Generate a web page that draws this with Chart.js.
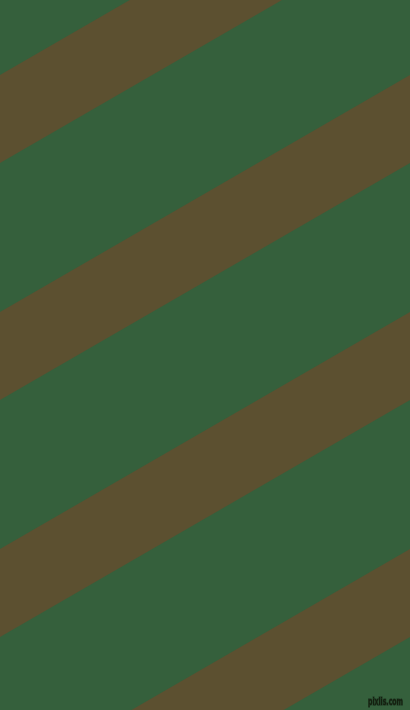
<!DOCTYPE html>
<html>
<head>
<meta charset="utf-8">
<script src="https://cdn.jsdelivr.net/npm/chart.js@4"></script>
<style>
  html, body { margin: 0; padding: 0; background: #35603c; }
  #wrap { width: 410px; height: 710px; }
</style>
</head>
<body>
<div id="wrap"><canvas id="chart1"></canvas></div>
<script>
// stripe edges, y at left (x=0) and right (x=410), pixels from top
const xEnds = [0, 410];
const topLeft = [75, 312, 549, 786];
const bottomLeft = [163, 400, 637, 874];
const topRight = [-162, 75, 312, 549];
const bottomRight = [-74, 163, 400, 637];

const green = 'rgb(53, 96, 60)';
const brown = 'rgb(92, 80, 48)';

const datasets = [];
topLeft.forEach(function (t, i) {
    datasets.push({
        label: 'top ' + i,
        data: [{x: xEnds[0], y: t}, {x: xEnds[1], y: topRight[i]}],
        borderWidth: 0,
        pointRadius: 0,
        fill: false,
    });
    datasets.push({
        label: 'bottom ' + i,
        data: [{x: xEnds[0], y: bottomLeft[i]}, {x: xEnds[1], y: bottomRight[i]}],
        borderWidth: 0,
        pointRadius: 0,
        backgroundColor: brown,
        fill: '-1',
    });
});

// watermark in the bottom right corner, squeezed to ~35px wide
const watermark = {
    id: 'watermark',
    afterDraw(chart) {
        const c = chart.ctx;
        const txt = 'pixlis.com';
        c.save();
        c.font = 'bold 11px "DejaVu Sans", sans-serif';
        const w = c.measureText(txt).width;
        const sx = 35 / w;
        c.translate(403, 705);
        c.scale(sx, 1);
        c.textAlign = 'right';
        c.textBaseline = 'alphabetic';
        c.lineWidth = 1.5;
        c.strokeStyle = 'rgba(0, 0, 0, 0.35)';
        c.strokeText(txt, 0, 0);
        c.fillStyle = '#15200f';
        c.fillText(txt, 0, 0);
        c.restore();
    }
};

const bg = {
    id: 'bg',
    beforeDraw(chart) {
        const c = chart.ctx;
        c.save();
        c.fillStyle = green;
        c.fillRect(0, 0, chart.width, chart.height);
        c.restore();
    }
};

const ctx1 = document.getElementById('chart1');

new Chart(ctx1, {
    type: 'line',
    data: { datasets: datasets },
    plugins: [bg, watermark],
    options: {
        responsive: true,
        maintainAspectRatio: false,
        animation: false,
        layout: { padding: 0 },
        plugins: {
            legend: { display: false },
            tooltip: { enabled: false },
        },
        scales: {
            x: { type: 'linear', min: 0, max: 410, display: false },
            y: { type: 'linear', min: 0, max: 710, reverse: true, display: false }
        }
    }
});
</script>
</body>
</html>
